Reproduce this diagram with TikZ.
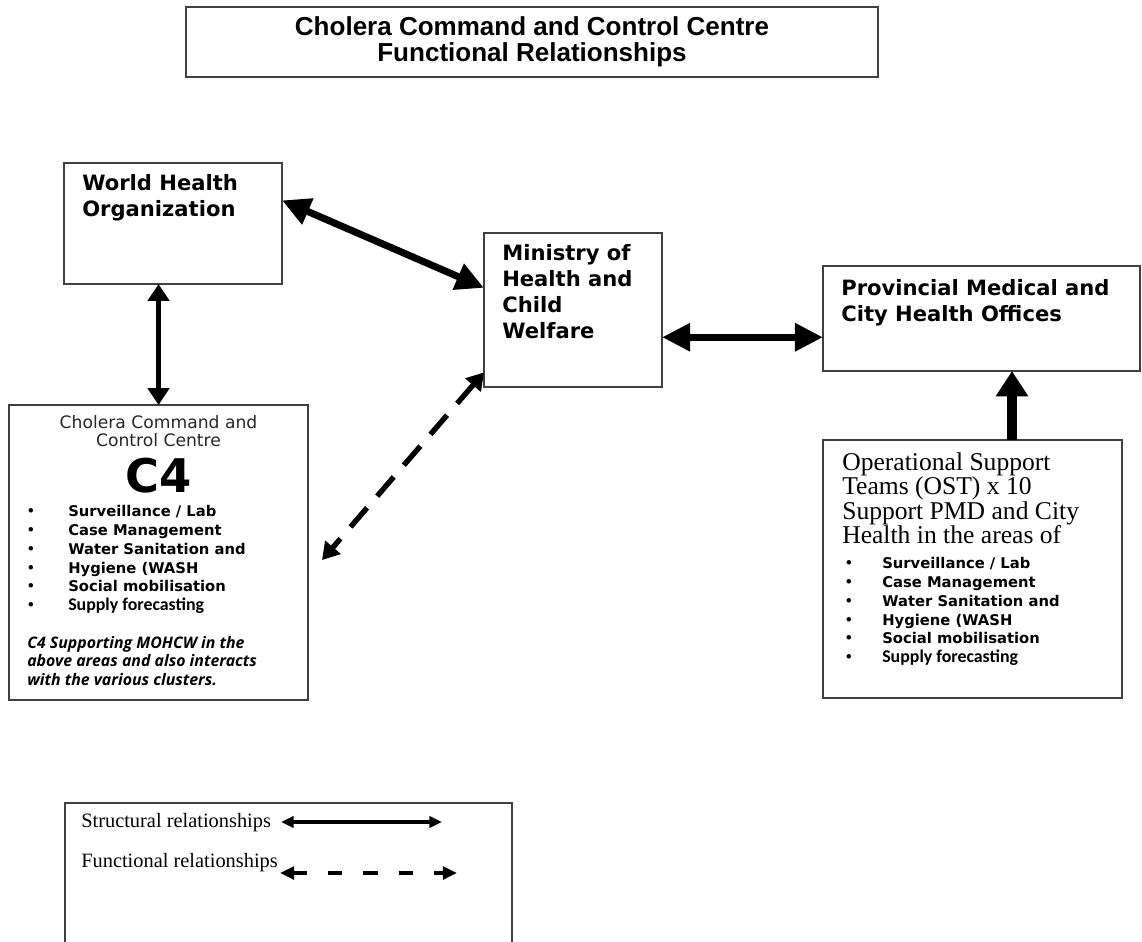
\documentclass[tikz,border=0pt]{standalone}
\usepackage{fontspec}
\setmainfont{Liberation Serif}
\newfontfamily\arialfont{Liberation Sans}
\newfontfamily\verdfont{DejaVu Sans}
\newfontfamily\calfont{Carlito}
\newfontfamily\notefont{Open Sans}
\usetikzlibrary{arrows.meta}

\tikzset{
  box/.style={draw=black!75, line width=1pt, inner sep=0pt, outer sep=0pt},
  boxlabel/.style={font=\verdfont\bfseries\fontsize{15}{18.5}\selectfont, align=left, inner sep=0pt, anchor=north west},
  dotlabel/.style={font=\verdfont\fontsize{11}{12}\selectfont, inner sep=0pt, anchor=base},
  itemlabel/.style={font=\verdfont\bfseries\fontsize{10.5}{12}\selectfont, inner sep=0pt, anchor=base west},
  supplylabel/.style={font=\calfont\bfseries\fontsize{12.7}{13}\selectfont, inner sep=0pt, anchor=base west},
  keylabel/.style={font=\fontsize{14.5}{16}\selectfont, inner sep=0pt, anchor=base west},
  structbig/.style={line width=5pt, arrows={Triangle[length=20pt,width=19pt]-Triangle[length=20pt,width=19pt]}},
  structthin/.style={line width=3.5pt, arrows={Triangle[length=12pt,width=15pt]-Triangle[length=12pt,width=15pt]}},
  structup/.style={line width=7pt, arrows={-Triangle[length=18pt,width=22pt]}},
  funcarrow/.style={line width=3.8pt, dash pattern=on 18pt off 11pt, arrows={Triangle[length=12pt,width=14pt]-Triangle[length=12pt,width=14pt]}},
  keystruct/.style={line width=2.2pt, arrows={Triangle[length=9pt,width=8pt]-Triangle[length=9pt,width=8pt]}},
  keyfunc/.style={line width=2.8pt, dash pattern=on 10pt off 15pt, arrows={Triangle[length=10pt,width=9pt]-Triangle[length=10pt,width=9pt]}}
}

\begin{document}
\begin{tikzpicture}[x=0.025cm, y=-0.025cm]
\useasboundingbox (0,0) rectangle (1142,941);

% title
\node[box, minimum width=17.3cm, minimum height=1.75cm, align=center,
      font=\arialfont\bfseries\fontsize{18.5}{18.5}\selectfont] (title) at (532,42)
      {Cholera Command and Control Centre\\Functional Relationships};

% organisations
\node[box, minimum width=5.45cm, minimum height=3.025cm, anchor=north west] (who) at (64,163) {};
\node[boxlabel] (whotext) at (82,174) {World Health\\Organization};

\node[box, minimum width=4.45cm, minimum height=3.85cm, anchor=north west] (moh) at (484,233) {};
\node[boxlabel] (mohtext) at (502,244) {Ministry of\\Health and\\Child\\Welfare};

\node[box, minimum width=7.925cm, minimum height=2.625cm, anchor=north west] (prov) at (823,266) {};
\node[boxlabel] (provtext) at (841,279) {Provincial Medical and\\City Health Offices};

% C4 box
\node[box, minimum width=7.475cm, minimum height=7.375cm, anchor=north west] (c4) at (9,405) {};
\node[font=\verdfont\fontsize{12.2}{13}\selectfont, text=black!85, align=center, inner sep=0pt, anchor=north] (c4head) at (158.5,415)
      {Cholera Command and\\Control Centre};
\node[font=\verdfont\bfseries\fontsize{33}{33}\selectfont, inner sep=0pt, anchor=base] (c4big) at (158.5,492) {C4};
\foreach \txt [count=\i] in {Surveillance / Lab, Case Management, Water Sanitation and, Hygiene (WASH, Social mobilisation} {
  \node[dotlabel] (c4dot\i) at (31,497.9+18.8*\i) {\textbullet};
  \node[itemlabel] (c4item\i) at (68,497.9+18.8*\i) {\txt};
}
\node[dotlabel] (c4dot6) at (31,610.7) {\textbullet};
\node[supplylabel] (c4item6) at (68,610.7) {Supply forecasting};
\node[font=\notefont\bfseries\itshape\fontsize{11.3}{13.2}\selectfont, align=left, inner sep=0pt, anchor=north west] (c4note) at (27,636)
      {C4 Supporting MOHCW in the\\above areas and also interacts\\with the various clusters.};

% OST box
\node[box, minimum width=7.475cm, minimum height=6.45cm, anchor=north west] (ost) at (823,440) {};
\node[font=\fontsize{18.2}{17.5}\selectfont, align=left, inner sep=0pt, anchor=north west] (osttext) at (842,452)
      {Operational Support\\Teams (OST) x 10\\Support PMD and City\\Health in the areas of};
\foreach \txt [count=\i] in {Surveillance / Lab, Case Management, Water Sanitation and, Hygiene (WASH, Social mobilisation} {
  \node[dotlabel] (ostdot\i) at (849,549.4+18.9*\i) {\textbullet};
  \node[itemlabel] (ostitem\i) at (882,549.4+18.9*\i) {\txt};
}
\node[dotlabel] (ostdot6) at (849,662.7) {\textbullet};
\node[supplylabel] (ostitem6) at (882,662.7) {Supply forecasting};

% connectors
\draw[structbig] (who.12) -- (moh.166);
\draw[structbig] (moh.-17) -- (moh.-17 -| prov.west);
\draw[structthin] (c4.north |- who.south) -- (c4.north);
\draw[structup] (ost.73) -- (ost.73 |- prov.south);
\coordinate (c4tip) at (322,560);
\draw[funcarrow] (moh.215) -- (c4tip);

% legend
\node[box, minimum width=11.175cm, minimum height=3.925cm, anchor=north west] (legend) at (65,803) {};
\node[keylabel] (structtext) at (81,827) {Structural relationships};
\node[keylabel] (functext) at (81,867) {Functional relationships};
\coordinate (sa) at (281,822);
\coordinate (sb) at (442,822);
\coordinate (fa) at (280,873);
\coordinate (fb) at (457,873);
\draw[keystruct] (sa) -- (sb);
\draw[keyfunc] (fa) -- (fb);
\end{tikzpicture}
\end{document}
